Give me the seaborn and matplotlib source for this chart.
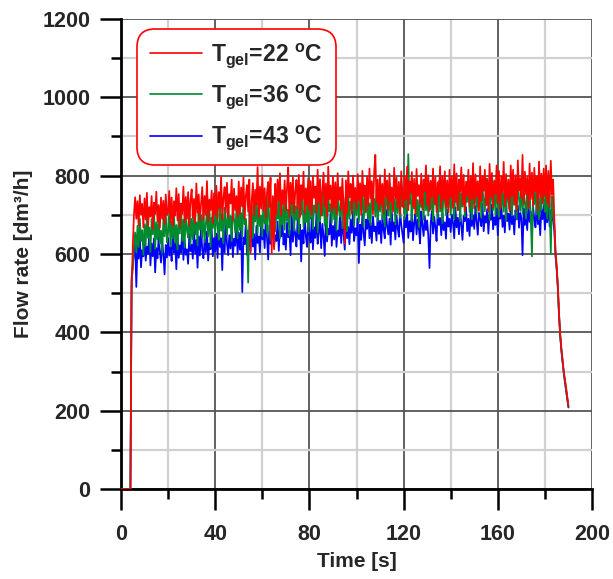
import numpy as np
import pandas as pd
import matplotlib
matplotlib.use("Agg")
import matplotlib.pyplot as plt
from matplotlib.lines import Line2D
from matplotlib.ticker import MultipleLocator
import seaborn as sns

dt = 0.5
red_22 = [
    0, 0, 0, 0, 0, 0, 0, 0, 0, 505, 620, 700, 745, 690, 735, 672, 750, 700, 728, 668,
    742, 688, 756, 671, 720, 695, 748, 664, 731, 702, 759, 683, 725, 667, 744, 690, 736, 676, 752, 699,
    708, 761, 680, 744, 672, 735, 698, 768, 686, 753, 669, 729, 702, 772, 681, 746, 690, 758, 673, 737,
    765, 692, 741, 678, 780, 705, 752, 684, 726, 771, 689, 748, 700, 786, 683, 739, 712, 762, 679, 755,
    700, 774, 691, 758, 717, 797, 688, 744, 771, 705, 782, 694, 753, 729, 790, 686, 767, 712, 748, 695,
    785, 702, 770, 721, 796, 690, 748, 776, 708, 790, 603, 735, 781, 699, 764, 725, 822, 694, 772, 716,
    801, 711, 768, 693, 757, 784, 720, 795, 603, 748, 612, 779, 702, 790, 735, 806, 698, 763, 727, 788,
    709, 770, 821, 696, 782, 728, 796, 705, 760, 789, 716, 802, 694, 776, 739, 810, 703, 768, 725, 793,
    712, 786, 700, 799, 743, 772, 706, 815, 731, 791, 699, 764, 808, 722, 780, 696, 823, 740, 775, 710,
    798, 717, 783, 701, 806, 738, 770, 712, 793, 726, 627, 788, 705, 811, 745, 779, 703, 800, 733, 769,
    715, 804, 736, 781, 700, 812, 748, 775, 709, 797, 724, 818, 742, 786, 702, 809, 853, 731, 790, 714,
    801, 726, 779, 705, 816, 747, 788, 712, 805, 733, 770, 708, 820, 741, 795, 719, 784, 702, 811, 752,
    718, 798, 739, 823, 712, 785, 756, 809, 721, 792, 703, 817, 748, 776, 729, 805, 714, 790, 760, 826,
    725, 801, 710, 787, 745, 818, 729, 796, 707, 783, 752, 824, 716, 799, 738, 811, 720, 788, 706, 815,
    744, 797, 718, 829, 733, 806, 712, 790, 758, 821, 726, 802, 709, 785, 749, 815, 722, 798, 740, 832,
    716, 803, 747, 786, 710, 824, 735, 799, 761, 815, 724, 792, 708, 830, 745, 807, 719, 786, 753, 826,
    730, 812, 714, 798, 757, 835, 722, 804, 741, 790, 709, 826, 748, 815, 726, 801, 712, 839, 762, 794,
    744, 853, 728, 810, 752, 796, 717, 831, 740, 808, 723, 820, 760, 797, 712, 836, 745, 805, 729, 818,
    748, 826, 731, 812, 720, 838, 752, 790, 690, 610, 570, 520, 450, 395, 360, 330, 300, 280, 260, 235,
    212,
]
green_36 = [
    0, 0, 0, 0, 0, 0, 0, 0, 0, 530, 560, 620, 655, 604, 672, 618, 690, 633, 661, 598,
    676, 622, 700, 641, 668, 605, 689, 650, 718, 613, 681, 637, 697, 626, 660, 602, 693, 645, 710, 630,
    655, 712, 619, 683, 640, 703, 628, 674, 611, 695, 652, 721, 633, 688, 617, 706, 660, 642, 725, 624,
    690, 637, 714, 650, 681, 622, 728, 662, 699, 641, 719, 630, 676, 708, 645, 732, 619, 694, 666, 711,
    648, 724, 671, 636, 739, 659, 703, 628, 718, 682, 650, 741, 667, 697, 633, 726, 688, 655, 712, 640,
    733, 661, 705, 644, 748, 676, 690, 652, 527, 718, 669, 737, 641, 702, 683, 755, 650, 724, 671, 698,
    645, 740, 678, 711, 654, 752, 687, 635, 726, 669, 745, 658, 704, 690, 763, 641, 719, 675, 738, 662,
    750, 684, 713, 649, 734, 698, 768, 660, 722, 687, 745, 652, 729, 701, 759, 669, 712, 681, 748, 657,
    736, 690, 761, 664, 724, 705, 772, 655, 741, 683, 718, 698, 766, 672, 733, 647, 754, 709, 727, 679,
    764, 688, 737, 660, 750, 712, 695, 771, 666, 743, 701, 725, 658, 760, 690, 734, 715, 769, 673, 746,
    699, 758, 681, 736, 712, 777, 669, 748, 705, 765, 688, 729, 674, 781, 716, 741, 695, 763, 683, 752,
    708, 774, 690, 744, 671, 766, 726, 698, 782, 685, 753, 719, 739, 676, 770, 704, 757, 692, 785, 721,
    747, 689, 772, 703, 855, 728, 761, 684, 749, 716, 778, 695, 738, 669, 767, 720, 751, 688, 775, 711,
    742, 698, 780, 714, 757, 683, 769, 726, 744, 691, 786, 708, 752, 679, 773, 735, 699, 762, 718, 784,
    700, 758, 727, 689, 776, 741, 712, 790, 683, 755, 721, 771, 696, 748, 733, 782, 707, 764, 688, 759,
    729, 785, 703, 752, 718, 779, 692, 766, 738, 709, 793, 725, 757, 687, 774, 741, 712, 788, 700, 760,
    733, 695, 781, 720, 756, 708, 792, 684, 769, 737, 714, 786, 698, 762, 726, 750, 689, 798, 742, 710,
    775, 703, 758, 729, 691, 784, 716, 763, 695, 594, 752, 727, 780, 701, 769, 688, 744, 712, 795, 736,
    708, 772, 690, 760, 725, 601, 748, 702, 675, 600, 565, 515, 445, 392, 355, 327, 298, 276, 256, 232,
    210,
]
blue_43 = [
    0, 0, 0, 0, 0, 0, 0, 0, 0, 540, 575, 600, 630, 516, 622, 588, 641, 566, 610, 594,
    636, 583, 619, 600, 652, 571, 627, 594, 640, 553, 615, 589, 645, 606, 578, 632, 598, 548, 623, 591,
    641, 596, 618, 582, 660, 604, 629, 561, 647, 590, 622, 603, 668, 585, 636, 598, 612, 575, 650, 607,
    624, 588, 662, 601, 636, 565, 645, 596, 671, 610, 589, 638, 604, 657, 583, 627, 612, 665, 594, 641,
    606, 652, 590, 677, 618, 640, 559, 662, 603, 685, 626, 597, 648, 614, 672, 592, 639, 621, 688, 600,
    655, 611, 668, 503, 642, 625, 679, 598, 660, 633, 607, 690, 619, 651, 586, 672, 628, 645, 604, 681,
    637, 662, 615, 695, 641, 586, 674, 626, 658, 700, 619, 648, 633, 683, 608, 666, 645, 691, 624, 652,
    611, 680, 643, 660, 597, 698, 631, 669, 652, 619, 690, 638, 675, 581, 661, 627, 702, 645, 618, 684,
    650, 629, 693, 612, 668, 641, 704, 626, 659, 683, 615, 677, 646, 595, 689, 632, 664, 650, 708, 621,
    672, 637, 692, 618, 660, 646, 705, 628, 684, 652, 611, 697, 640, 669, 625, 688, 654, 710, 633, 666,
    648, 690, 577, 675, 636, 702, 655, 622, 688, 664, 711, 640, 679, 628, 696, 658, 670, 634, 705, 651,
    685, 628, 697, 662, 640, 714, 671, 650, 690, 624, 706, 658, 681, 637, 699, 666, 644, 712, 675, 653,
    629, 693, 668, 705, 641, 684, 657, 718, 635, 679, 702, 650, 688, 664, 627, 709, 673, 646, 697, 661,
    686, 645, 564, 678, 710, 652, 695, 668, 633, 716, 674, 692, 648, 704, 661, 681, 639, 713, 670, 690,
    656, 701, 679, 640, 719, 668, 693, 650, 708, 675, 636, 697, 684, 720, 658, 690, 646, 712, 671, 699,
    664, 722, 683, 649, 705, 690, 671, 728, 658, 697, 680, 715, 652, 700, 687, 726, 663, 694, 674, 717,
    648, 709, 690, 725, 669, 698, 655, 731, 684, 703, 662, 719, 676, 697, 650, 712, 688, 724, 667, 705,
    693, 597, 716, 674, 700, 661, 728, 682, 709, 655, 720, 690, 668, 731, 676, 703, 648, 715, 689, 724,
    662, 708, 681, 733, 670, 712, 695, 684, 660, 595, 560, 510, 440, 390, 352, 324, 296, 272, 250, 228,
    208,
]
labels = [r"T$_{\mathrm{gel}}$=22 $^{\mathrm{o}}$C",
          r"T$_{\mathrm{gel}}$=36 $^{\mathrm{o}}$C",
          r"T$_{\mathrm{gel}}$=43 $^{\mathrm{o}}$C"]
colors = ["#ff0000", "#008a30", "#0000ff"]
x_ticks = [0, 40, 80, 120, 160, 200]
y_ticks = [0, 200, 400, 600, 800, 1000, 1200]

# ---------------- build frame ----------------
frames = []
for lab, vals in zip(labels, [red_22, green_36, blue_43]):
    v = np.asarray(vals, dtype=float)
    frames.append(pd.DataFrame({"time": np.arange(len(v)) * dt, "flow": v, "series": lab}))
df = pd.concat(frames, ignore_index=True)

# ---------------- style ----------------
sns.set_style("white")
plt.rcParams["font.family"] = ["Liberation Sans", "DejaVu Sans"]
plt.rcParams["font.weight"] = "bold"
plt.rcParams["mathtext.fontset"] = "custom"
plt.rcParams["mathtext.rm"] = "Liberation Sans"
plt.rcParams["mathtext.it"] = "Liberation Sans:italic"
plt.rcParams["mathtext.bf"] = "Liberation Sans:bold"

fig = plt.figure(figsize=(6.13, 5.79), dpi=100)
ax = fig.add_axes([121 / 613, 1 - 489 / 579, 471 / 613, 470 / 579])

palette = dict(zip(labels, colors))
sns.lineplot(data=df, x="time", y="flow", hue="series", hue_order=labels[::-1],
             palette=palette, estimator=None, sort=False, linewidth=1.25,
             legend=False, ax=ax, zorder=3)

ax.set_xlim(0, 200)
ax.set_ylim(0, 1200)
ax.set_xticks(x_ticks)
ax.set_yticks(y_ticks)
ax.xaxis.set_minor_locator(MultipleLocator(20))
ax.yaxis.set_minor_locator(MultipleLocator(100))
ax.grid(which="major", color="#555555", linewidth=1.3, zorder=0)
ax.grid(which="minor", color="#d0d0d0", linewidth=1.6, zorder=0)
ax.set_axisbelow(True)

for s in ["top", "right"]:
    ax.spines[s].set_visible(False)
for s in ["left", "bottom"]:
    ax.spines[s].set_linewidth(2.0)
    ax.spines[s].set_color("black")

ax.tick_params(which="both", bottom=True, left=True, top=False, right=False)
ax.tick_params(which="major", direction="out", length=15, width=1.8,
               labelsize=15.5, color="black")
ax.tick_params(axis="x", which="major", pad=10)
ax.tick_params(axis="y", which="major", pad=7)
ax.tick_params(which="minor", direction="out", length=7, width=1.8, color="black")
for t in ax.get_xticklabels() + ax.get_yticklabels():
    t.set_fontweight("bold")

ax.set_xlabel("Time [s]", fontsize=15, fontweight="bold", labelpad=5)
ax.set_ylabel("Flow rate [dm³/h]", fontsize=15, fontweight="bold", labelpad=7)

handles = [Line2D([0], [0], color=c, linewidth=1.2) for c in colors]
leg = ax.legend(handles, labels, loc="upper left", bbox_to_anchor=(0.034, 0.979),
                borderaxespad=0, frameon=True, fancybox=True,
                handlelength=2.3, handletextpad=0.4, labelspacing=0.55,
                borderpad=0.55, prop={"weight": "bold", "size": 16.5})
leg.get_frame().set_edgecolor("#ff0000")
leg.get_frame().set_linewidth(1.2)
leg.get_frame().set_alpha(1)
leg.get_frame().set_boxstyle("round", pad=0.0, rounding_size=0.8)
leg.set_zorder(5)

fig.savefig("out.png", dpi=100)
